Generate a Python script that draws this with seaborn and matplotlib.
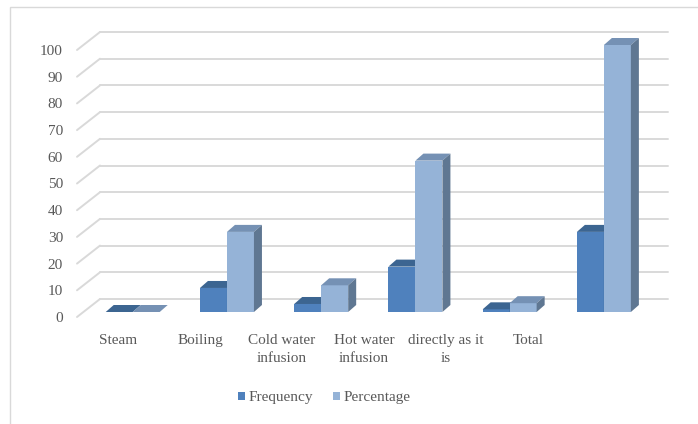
import matplotlib
matplotlib.use("Agg")
import matplotlib.pyplot as plt
from matplotlib.patches import Polygon, Rectangle, Patch
from matplotlib.lines import Line2D
from matplotlib.transforms import ScaledTranslation
import pandas as pd
import seaborn as sns

# Ways of preparing the plant
methods = ["Steam", "Boiling", "Cold water\ninfusion", "Hot water\ninfusion",
           "directly as it\nis", "Total"]
frequency = [0, 9, 3, 17, 1, 30]
percentage = [0, 30, 10, 56.7, 3.3, 100]
series_names = ["Frequency", "Percentage"]
y_ticks = list(range(0, 101, 10))

front_colors = ["#4F81BD", "#95B3D7"]
top_colors = ["#3C6591", "#7591B4"]
side_colors = ["#3A5F88", "#5F7792"]
grid_color = "#D9D9D9"
text_color = "#595959"

df = pd.DataFrame({
    "Method": methods * 2,
    "Value": frequency + percentage,
    "Series": [series_names[0]] * len(methods) + [series_names[1]] * len(methods),
})

sns.set_theme(style="white")
plt.rcParams["font.family"] = ["Liberation Serif", "DejaVu Serif"]

W, H, DPI = 698, 424, 100
fig = plt.figure(figsize=(W / DPI, H / DPI), dpi=DPI)
fig.patch.set_facecolor("white")

# Front plane of the bars
ax_left, ax_right = 85.6, 651.0
ax_bottom, ax_top = 312.0, 45.0
ax = fig.add_axes([ax_left / W, (H - ax_bottom) / H,
                   (ax_right - ax_left) / W, (ax_bottom - ax_top) / H])
ax.set_facecolor("none")

sns.barplot(data=df, x="Method", y="Value", hue="Series", order=methods,
            hue_order=series_names, palette=front_colors, saturation=1,
            width=0.573, gap=0, linewidth=0, edgecolor="none",
            legend=False, ax=ax)
ax.set_xlim(-0.5, len(methods) - 0.5)
ax.set_ylim(0, 100)
for s in ax.spines.values():
    s.set_visible(False)
ax.set_xlabel("")
ax.set_ylabel("")
ax.set_xticks([])

# pixel -> data conversion for the depth effect
sx = len(methods) / (ax_right - ax_left)
sy = 100.0 / (ax_bottom - ax_top)

# Back wall gridlines with oblique floor/side lines
x_lo, x_hi = -0.5, len(methods) - 0.5
for v in y_ticks:
    ax.add_line(Line2D([x_lo + 14.4 * sx, x_hi + 17 * sx], [v + 13 * sy, v + 13 * sy],
                       color=grid_color, lw=1.4, zorder=1, clip_on=False))
    ax.add_line(Line2D([x_lo - 8.6 * sx, x_lo + 14.4 * sx], [v - 5 * sy, v + 13 * sy],
                       color=grid_color, lw=1.4, zorder=1, clip_on=False))

# Top and side faces of each bar
ddx, ddy = 8 * sx, 7 * sy
for k, cont in enumerate(ax.containers):
    for rect in cont:
        x0, w, h = rect.get_x(), rect.get_width(), rect.get_height()
        rect.set_zorder(3 + k)
        top = Polygon([(x0, h), (x0 + w, h), (x0 + w + ddx, h + ddy), (x0 + ddx, h + ddy)],
                      closed=True, facecolor=top_colors[k], edgecolor="none",
                      zorder=3 + k, clip_on=False)
        side = Polygon([(x0 + w, 0), (x0 + w + ddx, ddy), (x0 + w + ddx, h + ddy), (x0 + w, h)],
                       closed=True, facecolor=side_colors[k], edgecolor="none",
                       zorder=3 + k, clip_on=False)
        ax.add_patch(top)
        ax.add_patch(side)

# Value axis labels sit on the front edge of the floor
ax.set_yticks(y_ticks)
ax.set_yticklabels([str(v) for v in y_ticks])
ax.tick_params(axis="y", length=0, pad=16.3, labelsize=11, labelcolor=text_color)
shift = ScaledTranslation(0, -5 / DPI, fig.dpi_scale_trans)
for lab in ax.get_yticklabels():
    lab.set_transform(lab.get_transform() + shift)

# Category labels along the front edge
lx0, lx1 = 77.0, 569.0
ax_lab = fig.add_axes([lx0 / W, (H - ax_bottom) / H, (lx1 - lx0) / W, 0.001])
ax_lab.set_facecolor("none")
for s in ax_lab.spines.values():
    s.set_visible(False)
ax_lab.set_xlim(-0.5, len(methods) - 0.5)
ax_lab.set_yticks([])
ax_lab.set_xticks(range(len(methods)))
ax_lab.set_xticklabels(methods, linespacing=1.5)
ax_lab.tick_params(axis="x", length=0, pad=15.5, labelsize=11, labelcolor=text_color)

# Legend
handles = [Patch(facecolor=c, edgecolor="none") for c in front_colors]
fig.legend(handles, series_names, loc="center", bbox_to_anchor=(324.5 / W, 1 - 398 / H),
           ncol=2, frameon=False, handlelength=0.45, handleheight=0.45,
           handletextpad=0.25, columnspacing=1.3, fontsize=11, labelcolor=text_color)

# Chart frame
fig.patches.append(Rectangle((10 / W, -0.1), 1.2, (H - 7) / H + 0.1,
                             transform=fig.transFigure, fill=False,
                             edgecolor=grid_color, lw=1.0, zorder=0))

fig.savefig("out.png", dpi=DPI)
